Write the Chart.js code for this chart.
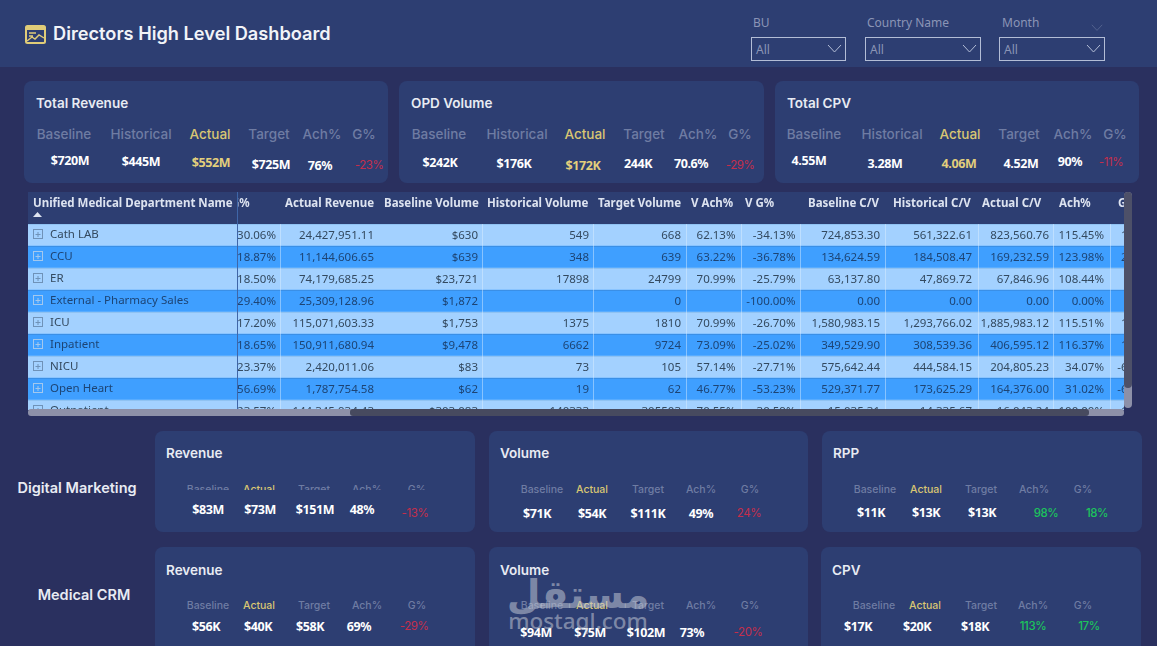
<!DOCTYPE html>
<html>
<head>
<meta charset="utf-8">
<title>Directors High Level Dashboard</title>
<script src="https://cdn.jsdelivr.net/npm/chart.js@4"></script>
<style>
  html, body { margin: 0; padding: 0; }
  body { width: 1157px; height: 646px; overflow: hidden; position: relative; background: #2a305f; font-family: Inter, sans-serif; }
  .box { position: absolute; }
  .band { background: #2d3e72; }
  .card { background: #2d3e72; border-radius: 8px; }
  .txt { position: absolute; white-space: nowrap; transform: translate(-50%, -50%); }
  .left { transform: translateY(-50%); }
  .title { color: #f1f3f8; font-size: 18.2px; font-weight: 600; }
  .cardTitle { color: #e8ebf3; font-size: 13.5px; font-weight: 600; }
  .side { color: #e8ebf3; font-size: 14.5px; font-weight: 600; }
  .lab { color: #6f7ca3; font-weight: 500; }
  .big { font-size: 13.5px; }
  .small { font-size: 10.5px; }
  .act { color: #d9c672; }
  .val { color: #fff; font-family: "Noto Sans", sans-serif; font-weight: 700; font-size: 12.5px; letter-spacing: -0.4px; }
  .valAct { color: #e3cf7c; }
  .red { color: #c42e4c; font-weight: 400; font-family: Inter, sans-serif; font-size: 11.5px; }
  .green { color: #1cc45c; font-weight: 500; font-family: Inter, sans-serif; font-size: 11.5px; }
  .clipLab { clip-path: inset(0 0 42% 0); }
  .filterLab { color: #8b95b6; font-size: 12px; font-family: "Noto Sans", sans-serif; }
  .filter { position: absolute; border: 1.5px solid #b3bdd6; box-sizing: border-box; top: 37px; height: 24px; }
  .filter span { position: absolute; left: 4px; top: 3px; color: #8b95b6; font-size: 12px; font-family: "Noto Sans", sans-serif; }
  .filter svg { position: absolute; right: 3px; top: 6px; }
  #tableBox { position: absolute; left: 28px; top: 192px; width: 1096px; height: 218px; overflow: hidden; }
  #tableChart { display: block; }
  .mark { color: rgba(195,200,212,0.55); font-weight: 700; }
</style>
</head>
<body>
<div class="box band" style="left:0;top:0;width:1157px;height:67px"></div>
<svg class="box" style="left:25px;top:25px" width="21" height="19" viewBox="0 0 21 19">
  <rect x="1" y="1" width="19" height="17" rx="1.5" fill="#2d3e72" stroke="#e0cc78" stroke-width="2"/>
  <rect x="1" y="1" width="19" height="4" fill="#e0cc78"/>
  <path d="M4 8h7M4 11h4M2 16l5-4 3 2 4-4 5 3" fill="none" stroke="#e0cc78" stroke-width="1.4"/>
</svg>
<div id="page"></div>
<div id="tableBox"><canvas id="tableChart" width="1096" height="230" style="width:1096px;height:230px"></canvas></div>
<div class="box" style="left:1124px;top:192px;width:8px;height:216px;background:#8d90a8;border-radius:4px"></div>
<div class="box" style="left:1124px;top:192px;width:8px;height:196px;background:#4d5068;border-radius:4px"></div>
<div class="box" style="left:28px;top:409px;width:1096px;height:7px;background:#8d90a8;border-radius:3px"></div>
<div class="box" style="left:350px;top:409px;width:739px;height:7px;background:#474a5f;border-radius:3px"></div>

<script>
/* --- Table data --- */
const departments = ['Cath LAB', 'CCU', 'ER', 'External - Pharmacy Sales', 'ICU', 'Inpatient', 'NICU', 'Open Heart', 'Outpatient'];
const revenueG = ['30.06%', '18.87%', '18.50%', '29.40%', '17.20%', '18.65%', '23.37%', '56.69%', '23.57%'];
const actualRevenue = ['24,427,951.11', '11,144,606.65', '74,179,685.25', '25,309,128.96', '115,071,603.33', '150,911,680.94', '2,420,011.06', '1,787,754.58', '144,345,934.43'];
const baselineVolume = ['$630', '$639', '$23,721', '$1,872', '$1,753', '$9,478', '$83', '$62', '$303,083'];
const historicalVolume = ['549', '348', '17898', '', '1375', '6662', '73', '19', '140333'];
const targetVolume = ['668', '639', '24799', '0', '1810', '9724', '105', '62', '305503'];
const volumeAch = ['62.13%', '63.22%', '70.99%', '', '70.99%', '73.09%', '57.14%', '46.77%', '70.55%'];
const volumeG = ['-34.13%', '-36.78%', '-25.79%', '-100.00%', '-26.70%', '-25.02%', '-27.71%', '-53.23%', '-30.59%'];
const baselineCV = ['724,853.30', '134,624.59', '63,137.80', '0.00', '1,580,983.15', '349,529.90', '575,642.44', '529,371.77', '15,035.31'];
const historicalCV = ['561,322.61', '184,508.47', '47,869.72', '0.00', '1,293,766.02', '308,539.36', '444,584.15', '173,625.29', '14,335.67'];
const actualCV = ['823,560.76', '169,232.59', '67,846.96', '0.00', '1,885,983.12', '406,595.12', '204,805.23', '164,376.00', '16,043.24'];
const achCV = ['115.45%', '123.98%', '108.44%', '0.00%', '115.51%', '116.37%', '34.07%', '31.02%', '100.00%'];
const gCV = ['16.77%', '23.31%', '', '', '16.11%', '16.33%', '-64.42%', '-68.95%', '11.91%'];
const rowBands = [1, 1, 1, 1, 1, 1, 1, 1, 1];

const tableHeaders = ['G%', 'Actual Revenue', 'Baseline Volume', 'Historical Volume', 'Target Volume', 'V Ach%', 'V G%', 'Baseline C/V', 'Historical C/V', 'Actual C/V', 'Ach%', 'G%'];
const tableColumns = [revenueG, actualRevenue, baselineVolume, historicalVolume, targetVolume, volumeAch, volumeG, baselineCV, historicalCV, actualCV, achCV, gCV];

/* --- KPI data --- */
const kpiLabelsLong = ['Baseline', 'Historical', 'Actual', 'Target', 'Ach%', 'G%'];
const kpiLabelsShort = ['Baseline', 'Actual', 'Target', 'Ach%', 'G%'];
const totalRevenue = ['$720M', '$445M', '$552M', '$725M', '76%', '-23%'];
const opdVolume = ['$242K', '$176K', '$172K', '244K', '70.6%', '-29%'];
const totalCpv = ['4.55M', '3.28M', '4.06M', '4.52M', '90%', '-11%'];
const digitalRevenue = ['$83M', '$73M', '$151M', '48%', '-13%'];
const digitalVolume = ['$71K', '$54K', '$111K', '49%', '24%'];
const digitalRpp = ['$11K', '$13K', '$13K', '98%', '18%'];
const crmRevenue = ['$56K', '$40K', '$58K', '69%', '-29%'];
const crmVolume = ['$94M', '$75M', '$102M', '73%', '-20%'];
const crmCpv = ['$17K', '$20K', '$18K', '113%', '17%'];

/* --- Layout (pixels), kept apart from the values --- */
const columnRightPad = [276, 374, 478, 589, 681, 735.5, 795.5, 880, 972, 1049, 1104, 1160];
const headerLeft = [231, 285, 384, 487, 598, 691, 745, 808, 893, 982, 1059, 1118];
const dividers = [280, 482, 593, 686, 741, 800, 885, 978, 1053, 1110];

const cards = [
  { x: 24, y: 81, w: 364, h: 102 }, { x: 399, y: 81, w: 365, h: 102 }, { x: 775, y: 81, w: 364, h: 102 },
  { x: 155, y: 431, w: 320, h: 101 }, { x: 489, y: 431, w: 319, h: 101 }, { x: 822, y: 431, w: 320, h: 101 },
  { x: 155, y: 547, w: 320, h: 110 }, { x: 489, y: 547, w: 319, h: 110 }, { x: 821, y: 547, w: 320, h: 110 }
];

const kpis = [
  { title: 'Total Revenue', tx: 36, ty: 103, labY: 134, big: true, labs: kpiLabelsLong, labX: [64, 141, 210, 269, 322, 364], vals: totalRevenue, valX: [70, 141, 211, 271, 320, 369], valY: [160, 161, 162, 164, 165, 165] },
  { title: 'OPD Volume', tx: 411, ty: 103, labY: 134, big: true, labs: kpiLabelsLong, labX: [439, 517, 585, 644, 698, 740], vals: opdVolume, valX: [440, 514, 583, 638, 691, 740], valY: [162, 163, 165, 163, 163, 165] },
  { title: 'Total CPV', tx: 787, ty: 103, labY: 134, big: true, labs: kpiLabelsLong, labX: [814, 892, 960, 1019, 1073, 1115], vals: totalCpv, valX: [809, 885, 959, 1021, 1070, 1111], valY: [160, 163, 163, 163, 161, 162] },
  { title: 'Revenue', tx: 166, ty: 453, labY: 489, clip: true, labs: kpiLabelsShort, labX: [208, 259, 314, 367, 417], vals: digitalRevenue, valX: [208, 260, 315, 362, 415], valY: [509, 509, 509, 509, 513] },
  { title: 'Volume', tx: 500, ty: 453, labY: 489, labs: kpiLabelsShort, labX: [542, 592, 648, 701, 750], vals: digitalVolume, valX: [537, 592, 648, 701, 749], valY: [513, 513, 513, 513, 513] },
  { title: 'RPP', tx: 833, ty: 453, labY: 489, labs: kpiLabelsShort, labX: [875, 926, 981, 1034, 1083], vals: digitalRpp, valX: [871, 926, 982, 1046, 1097], valY: [512, 512, 512, 513, 513], good: true },
  { title: 'Revenue', tx: 166, ty: 570, labY: 605, labs: kpiLabelsShort, labX: [208, 259, 314, 367, 417], vals: crmRevenue, valX: [206, 258, 310, 359, 414], valY: [626, 626, 626, 626, 626] },
  { title: 'Volume', tx: 500, ty: 570, labY: 605, labs: kpiLabelsShort, labX: [542, 592, 648, 701, 750], vals: crmVolume, valX: [536, 590, 646, 692, 748], valY: [632, 632, 632, 632, 632] },
  { title: 'CPV', tx: 832, ty: 570, labY: 605, labs: kpiLabelsShort, labX: [874, 925, 981, 1033, 1083], vals: crmCpv, valX: [858, 917, 975, 1033, 1089], valY: [626, 626, 626, 626, 626], good: true }
];

const page = document.getElementById('page');

function addText(text, cls, x, y) {
  const el = document.createElement('div');
  el.className = 'txt ' + cls;
  el.textContent = text;
  el.style.left = x + 'px';
  el.style.top = y + 'px';
  page.appendChild(el);
  return el;
}

cards.forEach(c => {
  const el = document.createElement('div');
  el.className = 'box card';
  el.style.cssText = `left:${c.x}px;top:${c.y}px;width:${c.w}px;height:${c.h}px`;
  page.appendChild(el);
});

addText('Directors High Level Dashboard', 'title left', 53, 33);
addText('Digital Marketing', 'side', 77, 486.5);
addText('Medical CRM', 'side', 84, 594);

kpis.forEach(k => {
  addText(k.title, 'cardTitle left', k.tx, k.ty);
  k.labs.forEach((lab, i) => {
    let cls = 'lab ' + (k.big ? 'big' : 'small');
    if (lab === 'Actual') cls += ' act';
    if (k.clip) cls += ' clipLab';
    addText(lab, cls, k.labX[i], k.labY);
  });
  k.vals.forEach((v, i) => {
    let cls = 'val';
    if (k.big && k.labs[i] === 'Actual') cls += ' valAct';
    if (k.good && i >= 3) cls += ' green';
    else if (i === k.vals.length - 1) cls += ' red';
    addText(v, cls, k.valX[i], k.valY[i]);
  });
});

/* --- Filters --- */
const chevron = '<svg width="15" height="10" viewBox="0 0 15 10"><path d="M1 1l6.5 7L14 1" fill="none" stroke="#b3bdd6" stroke-width="1"/></svg>';
[['BU', 753, 751, 95], ['Country Name', 867, 865, 116], ['Month', 1002, 999, 106]].forEach(f => {
  addText(f[0], 'filterLab left', f[1], 22);
  const box = document.createElement('div');
  box.className = 'filter';
  box.style.left = f[2] + 'px';
  box.style.width = f[3] + 'px';
  box.innerHTML = '<span>All</span>' + chevron;
  page.appendChild(box);
});
const extra = document.createElement('div');
extra.className = 'box';
extra.style.cssText = 'left:1091px;top:16px;opacity:.35';
extra.innerHTML = '<svg width="12" height="8" viewBox="0 0 15 10"><path d="M1 1l6.5 7L14 1" fill="none" stroke="#b3bdd6" stroke-width="1"/></svg>';
page.appendChild(extra);

/* --- Watermark --- */
addText('مستقل', 'mark', 578, 594).style.cssText += ';font-family:"DejaVu Sans";font-size:39px';
addText('mostaql.com', 'mark', 578, 620).style.cssText += ';font-family:"Noto Sans";font-size:22.5px;font-weight:500';

/* --- Table drawn on the chart --- */
const offsetX = 28;

const tablePlugin = {
  id: 'tablePlugin',
  afterDatasetsDraw(chart) {
    const ctx = chart.ctx;
    const y = chart.scales.y;
    const top = y.top;
    const bottom = y.bottom;
    const rowH = (bottom - top) / departments.length;

    ctx.save();
    // header band
    ctx.fillStyle = '#2d3e72';
    ctx.fillRect(0, 0, 1096, top);

    // row lines
    departments.forEach((d, i) => {
      ctx.fillStyle = i % 2 ? '#3a8fe6' : '#8fc2f2';
      ctx.fillRect(0, top + i * rowH, 1096, 1);
    });

    // column lines
    dividers.forEach(x => {
      ctx.fillStyle = 'rgba(225,240,255,0.45)';
      ctx.fillRect(x - offsetX, top, 1, bottom - top);
    });

    // scrolled cells, cut at the frozen column
    ctx.save();
    ctx.beginPath();
    ctx.rect(209, 0, 1096 - 209, bottom);
    ctx.clip();
    ctx.textBaseline = 'middle';
    ctx.font = 'bold 11.5px "Noto Sans"';
    ctx.fillStyle = '#dde3f0';
    ctx.textAlign = 'left';
    tableHeaders.forEach((h, c) => {
      ctx.fillText(h, headerLeft[c] - offsetX, 12);
    });
    ctx.font = '11.5px "Noto Sans"';
    ctx.textAlign = 'right';
    tableColumns.forEach((col, c) => {
      col.forEach((v, i) => {
        ctx.fillStyle = i % 2 ? '#1d4474' : '#33495f';
        ctx.fillText(v, columnRightPad[c] - offsetX, top + i * rowH + rowH / 2 + 1);
      });
    });
    ctx.restore();

    // frozen column
    ctx.fillStyle = '#3f66a8';
    ctx.fillRect(209, 0, 1, bottom);
    ctx.fillStyle = '#dde3f0';
    ctx.font = 'bold 11.5px "Noto Sans"';
    ctx.textAlign = 'left';
    ctx.textBaseline = 'middle';
    ctx.fillText('Unified Medical Department Name', 5, 12);
    ctx.beginPath();
    ctx.moveTo(5, 25); ctx.lineTo(14, 25); ctx.lineTo(9.5, 20); ctx.closePath();
    ctx.fill();

    // expand boxes
    departments.forEach((d, i) => {
      const cy = Math.round(top + i * rowH + rowH / 2) - 1;
      ctx.strokeStyle = i % 2 ? '#a3c8ee' : '#6f92b8';
      ctx.lineWidth = 1;
      ctx.strokeRect(5.5, cy - 4.5, 9, 9);
      ctx.beginPath();
      ctx.moveTo(7.5, cy + 0.5); ctx.lineTo(12.5, cy + 0.5);
      ctx.moveTo(10, cy - 2); ctx.lineTo(10, cy + 3);
      ctx.stroke();
    });
    ctx.restore();
  }
};

new Chart(document.getElementById('tableChart'), {
  type: 'bar',
  data: {
    labels: departments,
    datasets: [{
      data: rowBands,
      backgroundColor: ctx => ctx.dataIndex % 2 ? '#3f9fff' : '#a3d1ff',
      barPercentage: 1,
      categoryPercentage: 1
    }]
  },
  options: {
    indexAxis: 'y',
    responsive: false,
    animation: false,
    layout: { autoPadding: false, padding: { top: 32, left: 0, right: 0, bottom: 0 } },
    plugins: { legend: { display: false }, tooltip: { enabled: false } },
    scales: {
      x: { display: false, min: 0, max: 1 },
      y: {
        afterFit: scale => {
          // the tick padding only moves the names, the rows keep the full height
          scale.width = 0;
          scale.paddingTop = 0;
          scale.paddingBottom = 0;
        },
        border: { display: false },
        grid: { display: false, drawTicks: false },
        ticks: {
          mirror: true,
          z: 2,
          padding: 22,
          color: ctx => ctx.index % 2 ? '#1d4474' : '#33495f',
          font: { family: '"Noto Sans"', size: 11.5 }
        }
      }
    }
  },
  plugins: [tablePlugin]
});
</script>
</body>
</html>
